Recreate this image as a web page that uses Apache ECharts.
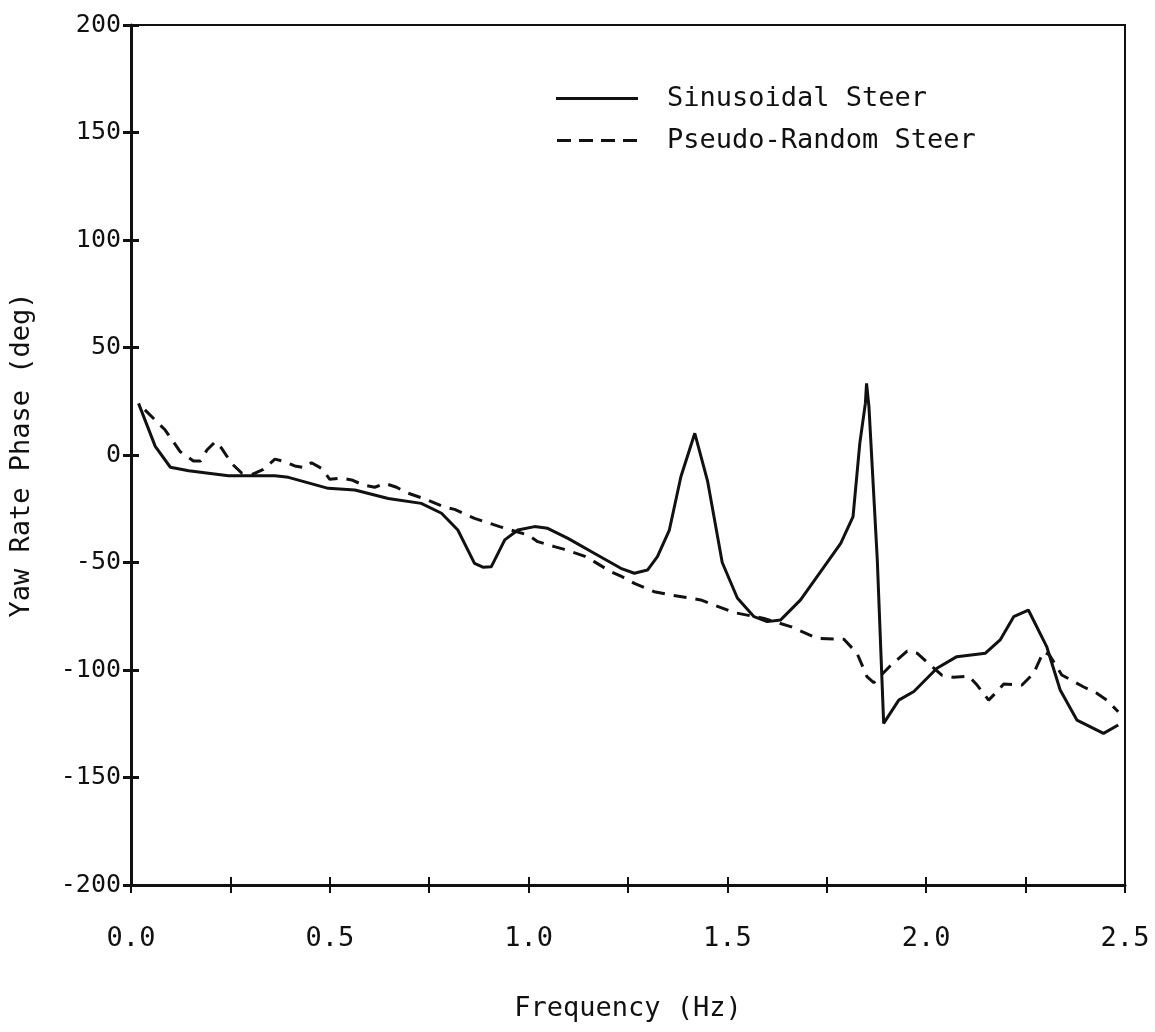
<!DOCTYPE html>
<html>
<head>
<meta charset="utf-8">
<script src="https://cdn.jsdelivr.net/npm/echarts@6/dist/echarts.min.js"></script>
<style>
  html, body { margin: 0; padding: 0; background: #fff; }
  #chart { width: 1155px; height: 1032px; }
</style>
</head>
<body>
<div id="chart"></div>
<script>
// Yaw rate phase response vs. steering frequency
const sinFreq = [0.019, 0.061, 0.099, 0.145, 0.245, 0.362, 0.396, 0.496, 0.563, 0.647,
  0.73, 0.781, 0.822, 0.864, 0.885, 0.906, 0.94, 0.973, 1.015, 1.048,
  1.099, 1.165, 1.232, 1.266, 1.299, 1.324, 1.354, 1.383, 1.418, 1.45,
  1.487, 1.525, 1.567, 1.6, 1.634, 1.684, 1.743, 1.785, 1.816, 1.833,
  1.847, 1.85, 1.856, 1.877, 1.893, 1.931, 1.969, 2.027, 2.077, 2.149,
  2.186, 2.22, 2.257, 2.303, 2.337, 2.379, 2.446, 2.483];
const sinPhase = [24, 4, -5.7, -7.3, -9.6, -9.6, -10.4, -15.5, -16.3, -20.2,
  -22.5, -27.1, -34.9, -50.4, -52.2, -52, -39.5, -34.9, -33.3, -34.1,
  -38.8, -45.7, -52.7, -55, -53.5, -47.3, -34.9, -10.1, 10.1, -12,
  -50, -66.5, -75.2, -77.5, -76.7, -67.4, -52, -41.1, -28.7, 5.4,
  24, 33.3, 22.5, -48.8, -124.8, -114, -110, -99.2, -93.8, -92.2,
  -86, -75.2, -72.1, -89.1, -109.3, -123.3, -129.5, -125.6];

const prFreq = [0.035, 0.086, 0.124, 0.157, 0.175, 0.191, 0.212, 0.228, 0.253, 0.279,
  0.305, 0.333, 0.362, 0.387, 0.412, 0.438, 0.454, 0.479, 0.5, 0.53,
  0.555, 0.585, 0.613, 0.638, 0.668, 0.693, 0.74, 0.789, 0.814, 0.864,
  0.927, 0.998, 1.023, 1.065, 1.09, 1.14, 1.165, 1.207, 1.232, 1.266,
  1.316, 1.358, 1.433, 1.467, 1.517, 1.592, 1.659, 1.726, 1.793, 1.826,
  1.851, 1.868, 1.91, 1.952, 1.977, 2.01, 2.04, 2.069, 2.107, 2.128,
  2.157, 2.174, 2.195, 2.241, 2.27, 2.295, 2.31, 2.341, 2.395, 2.429,
  2.454, 2.483];
const prPhase = [21, 11.6, 1.5, -2.8, -2.8, 2.3, 6.2, 3.1, -3.9, -8.5,
  -9, -6.7, -1.9, -3.1, -5.1, -5.9, -3.6, -6.2, -11.3, -10.8,
  -11.6, -14, -15, -13.2, -15, -17.5, -20.5, -24.3, -25.3, -29.5,
  -33.3, -37.2, -40.3, -42.6, -43.9, -47, -49.6, -54.3, -56.3, -59.7,
  -63.6, -65.1, -67.4, -69.8, -73.3, -76, -79.8, -85.3, -85.7, -92.2,
  -103.1, -105.9, -98, -91.2, -92.2, -97.7, -102.5, -103.4, -102.8, -107,
  -114, -110.8, -106.5, -107, -101.6, -91.5, -93, -102.3, -107.8, -110.8,
  -114, -119.4];

const seriesNames = ['Sinusoidal Steer', 'Pseudo-Random Steer'];
const xTitle = 'Frequency (Hz)';
const yTitle = 'Yaw Rate Phase (deg)';

const zip = (xs, ys) => xs.map((x, i) => [x, ys[i]]);

const ink = '#111';
const mono = '"DejaVu Sans Mono", "Liberation Mono", monospace';

// legend keys: a plain stroke and a four-dash stroke
const solidKey = 'path://M0,0H82V3H0Z';
const dashedKey = 'path://M0,0H14V3H0Z M22,0H36V3H22Z M44,0H58V3H44Z M66,0H80V3H66Z';

const chart = echarts.init(document.getElementById('chart'), null, { renderer: 'canvas' });

const xBase = { type: 'value', min: 0, max: 2.5, interval: 0.25, splitLine: { show: false } };
const yBase = { type: 'value', min: -200, max: 200, interval: 50, splitLine: { show: false } };

chart.setOption({
  animation: false,
  backgroundColor: '#fff',
  grid: {
    left: 129, right: 30, top: 25, bottom: 147,
    show: true, borderColor: ink, borderWidth: 2, backgroundColor: 'transparent'
  },
  legend: {
    orient: 'vertical',
    left: 551, top: 80,
    itemWidth: 82, itemHeight: 3, itemGap: 15,
    textStyle: { fontFamily: mono, fontSize: 27, color: ink, padding: [0, 0, 0, 24] },
    itemStyle: { color: ink, borderWidth: 0 },
    data: [
      { name: seriesNames[0], icon: solidKey },
      { name: seriesNames[1], icon: dashedKey }
    ]
  },
  xAxis: [
    Object.assign({}, xBase, {
      position: 'bottom',
      axisLine: { show: true, onZero: false, lineStyle: { color: ink, width: 3 } },
      axisTick: { show: true, inside: false, length: 8, lineStyle: { color: ink, width: 2 } },
      axisLabel: {
        margin: 40, fontFamily: mono, fontSize: 27, color: ink,
        formatter: v => (Math.round(v * 4) % 2 === 0 ? v.toFixed(1) : '')
      },
      name: xTitle, nameLocation: 'middle', nameGap: 110,
      nameTextStyle: { fontFamily: mono, fontSize: 27, color: ink }
    }),
    Object.assign({}, xBase, {
      position: 'bottom',
      axisLine: { show: false, onZero: false },
      axisTick: { show: true, inside: true, length: 8, lineStyle: { color: ink, width: 2 } },
      axisLabel: { show: false }
    })
  ],
  yAxis: [
    Object.assign({}, yBase, {
      position: 'left',
      axisLine: { show: true, onZero: false, lineStyle: { color: ink, width: 3 } },
      axisTick: { show: true, inside: false, length: 8, lineStyle: { color: ink, width: 3 } },
      axisLabel: { margin: 10, fontFamily: mono, fontSize: 25, color: ink },
      name: yTitle, nameLocation: 'middle', nameGap: 96,
      nameTextStyle: { fontFamily: mono, fontSize: 27, color: ink }
    }),
    Object.assign({}, yBase, {
      position: 'left',
      axisLine: { show: false, onZero: false },
      axisTick: { show: true, inside: true, length: 8, lineStyle: { color: ink, width: 3 } },
      axisLabel: { show: false }
    })
  ],
  series: [
    {
      name: seriesNames[0], type: 'line', xAxisIndex: 0, yAxisIndex: 0,
      showSymbol: false, symbol: 'none', smooth: false,
      lineStyle: { color: ink, width: 3, type: 'solid' },
      itemStyle: { color: ink },
      data: zip(sinFreq, sinPhase)
    },
    {
      name: seriesNames[1], type: 'line', xAxisIndex: 0, yAxisIndex: 0,
      showSymbol: false, symbol: 'none', smooth: false,
      lineStyle: { color: ink, width: 3, type: [13, 9] },
      itemStyle: { color: ink },
      data: zip(prFreq, prPhase)
    }
  ]
});
</script>
</body>
</html>
